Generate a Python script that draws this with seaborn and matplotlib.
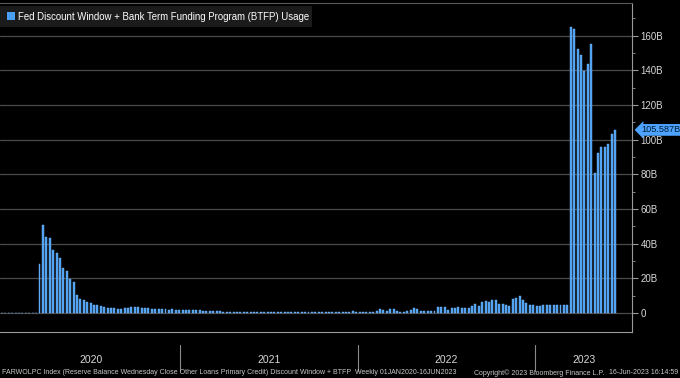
import pandas as pd
import numpy as np
import matplotlib
matplotlib.use("Agg")
import matplotlib.pyplot as plt
import matplotlib.transforms as mtransforms
from matplotlib.patches import Rectangle
import seaborn as sns

# ===================== data (weekly, Wednesday close, $B) =====================
START = "2020-01-01"
usage_2020 = [0.02, 0.02, 0.03, 0.02, 0.02, 0.03, 0.02, 0.02, 0.03, 0.02, 0.05,
              28.2, 50.7, 44.0, 43.4, 36.3, 34.4, 31.5, 26.1, 24.4, 19.6, 18.1,
              10.4, 8.1, 7.5, 6.2, 5.8, 4.8, 4.6, 4.2, 3.4, 2.9,
              2.7, 2.6, 2.4, 2.4, 2.6, 3.0, 3.2, 3.2, 3.2, 3.0, 3.0, 2.7, 2.5,
              2.4, 2.3, 2.1, 2.1, 1.9, 2.0, 1.9, 1.9]
usage_2021 = [1.7, 1.9, 1.9, 1.8, 1.7, 1.6, 1.3, 1.2, 1.0, 1.0, 0.9, 0.9, 0.8,
              0.8, 0.8, 0.7, 0.7,
              0.6, 0.6, 0.5, 0.5, 0.5, 0.5, 0.5, 0.5, 0.4, 0.4, 0.5, 0.4, 0.4,
              0.4, 0.4, 0.4, 0.4, 0.4, 0.4, 0.4, 0.4, 0.4, 0.4, 0.4, 0.4, 0.4, 0.4,
              0.5, 0.6, 0.6, 0.5, 0.5, 0.6, 0.9, 0.6]
usage_2022 = [0.5, 0.5, 0.5, 0.5, 0.6, 1.3, 2.1, 1.9, 1.0, 2.3, 2.2, 0.9, 0.8,
              0.8, 0.9, 1.7, 2.7, 2.3, 1.0, 0.9, 1.0, 1.1, 1.0, 3.3,
              3.5, 3.7, 1.9, 2.6, 2.9, 3.5, 2.9, 2.9, 2.9, 3.8, 5.4, 4.2, 6.5,
              6.7, 6.3, 7.5, 7.5, 4.9, 5.3, 4.7, 3.8, 7.9, 8.5, 9.8, 7.5, 5.9,
              4.7, 4.7]
usage_2023 = [3.8, 3.8, 4.7, 4.7, 4.7, 4.7, 4.7, 4.7, 4.7, 4.4,
              164.8, 163.6, 152.4, 148.8, 139.3, 143.8, 155.0, 81.0, 92.1,
              95.9, 95.9, 97.3, 103.1, 105.587]
years = [2020, 2021, 2022, 2023]
y_ticks = [0, 20, 40, 60, 80, 100, 120, 140, 160]
y_labels = ["0"] + [f"{v}B" for v in y_ticks[1:]]

TITLE = "Fed Discount Window + Bank Term Funding Program (BTFP) Usage"
FOOT_L = ("FARWOLPC Index (Reserve Balance Wednesday Close Other Loans Primary Credit) "
          "Discount Window + BTFP  Weekly 01JAN2020-16JUN2023")
FOOT_M = "Copyright\u00a9 2023 Bloomberg Finance L.P."
FOOT_R = "16-Jun-2023 16:14:59"

usage = usage_2020 + usage_2021 + usage_2022 + usage_2023
dates = pd.date_range(START, periods=len(usage), freq="7D")
df = pd.DataFrame({"week": np.arange(len(usage)), "date": dates, "usage": usage})
t0 = pd.Timestamp(START)

def week_pos(ts):
    return (pd.Timestamp(ts) - t0).days / 7.0

# ===================== style =====================
sns.set_style("dark")
plt.rcParams['font.family'] = ['Liberation Sans', 'DejaVu Sans']
BAR = "#4a9ef2"
GRID = "#4a4a4a"
AXC = "#9a9a9a"
TXT = "#d8d8d8"

W, H = 680, 378
fig = plt.figure(figsize=(W / 100, H / 100), dpi=100, facecolor="black")
ax = fig.add_axes([0, 1 - 332 / H, 632 / W, 329 / H])
ax.set_facecolor("black")

sns.barplot(data=df, x="week", y="usage", color=BAR, saturation=1, width=0.58,
            edgecolor="#7dbcff", linewidth=0.3, ax=ax)

ax.set_xlim(-0.6, 185)
ax.set_ylim(-11, 178.8)
ax.set_xlabel("")
ax.set_ylabel("")

# right axis
ax.yaxis.tick_right()
ax.set_yticks(y_ticks)
ax.set_yticklabels(y_labels)
ax.set_yticks(np.arange(10, 180, 20), minor=True)
ax.tick_params(axis="y", which="major", direction="out", length=4, width=0.8,
               color=AXC, labelcolor=TXT, labelsize=7, pad=2)
ax.tick_params(axis="y", which="minor", direction="out", length=2, width=0.6, color=AXC)
ax.grid(axis="y", which="major", color=GRID, linewidth=0.9)
ax.grid(axis="x", visible=False)
ax.set_axisbelow(True)

# monthly ticks along the bottom
months = pd.date_range("2020-01-01", "2023-07-01", freq="MS")
ax.set_xticks([week_pos(m) for m in months])
ax.set_xticklabels([])
ax.tick_params(axis="x", direction="out", length=3, width=0.6, color=AXC)

ax.spines["left"].set_visible(False)
for side in ["right", "bottom", "top"]:
    ax.spines[side].set_color(AXC)
    ax.spines[side].set_linewidth(0.8)
ax.spines["top"].set_color("#5a5a5a")

# year labels and separators
trans = mtransforms.blended_transform_factory(ax.transData, ax.transAxes)
bounds = [week_pos(f"{y}-01-01") for y in years] + [185]
for i, y in enumerate(years):
    ax.text((bounds[i] + bounds[i + 1]) / 2, -0.085, str(y), transform=trans,
            ha="center", va="center", color=TXT, fontsize=7.5)
    if i > 0:
        ax.axvline(bounds[i], ymin=-0.12, ymax=-0.04, clip_on=False,
                   color="#8a8a8a", linewidth=0.8)

# last value tag
tag_tr = mtransforms.blended_transform_factory(ax.transAxes, ax.transData)
ax.text(1.014, usage[-1], f"{usage[-1]:.3f}B", transform=tag_tr, ha="left", va="center",
        fontsize=6.6, color="#001a33",
        bbox=dict(boxstyle="larrow,pad=0.15", fc="#4da3ff", ec="none"))

# legend / title box
fig.patches.append(Rectangle((0, 1 - 27 / H), 312 / W, 21 / H, transform=fig.transFigure,
                             fc="#1b1b1b", ec="none", zorder=5))
fig.patches.append(Rectangle((7 / W, 1 - 20 / H), 8 / W, 8 / H, transform=fig.transFigure,
                             fc=BAR, ec="none", zorder=6))
fig.text(18 / W, 1 - 16.5 / H, TITLE, color="white", fontsize=6.9, va="center", ha="left",
         zorder=7)

# footer
fy = 1 - 373 / H
fig.text(2 / W, fy, FOOT_L, color="#c8c8c8", fontsize=5.0, va="center", ha="left")
fig.text(474 / W, fy, FOOT_M, color="#c8c8c8", fontsize=5.0, va="center", ha="left")
fig.text(678 / W, fy, FOOT_R, color="#c8c8c8", fontsize=5.0, va="center", ha="right")

fig.savefig("out.png", dpi=100, facecolor="black")
